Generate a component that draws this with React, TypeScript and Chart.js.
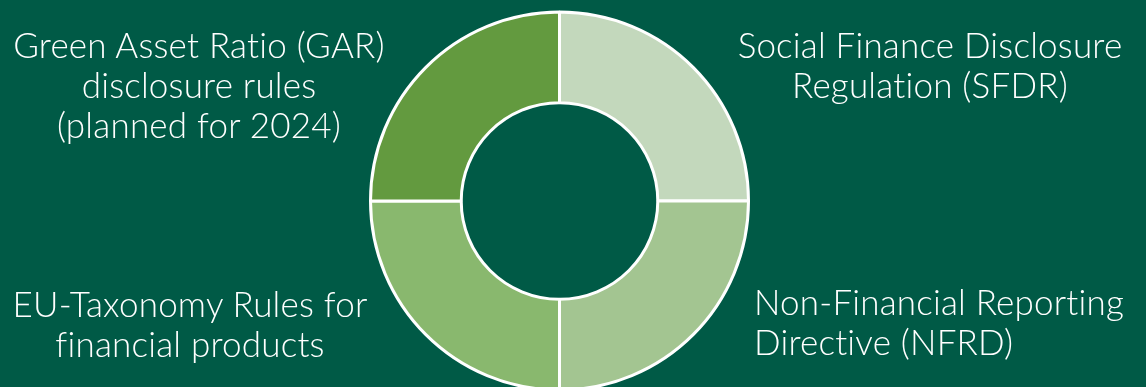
import React, { useEffect, useRef } from "react";
import { Chart, registerables } from "chart.js";

Chart.register(...registerables);

const categories = [
  "Social Finance Disclosure Regulation (SFDR)",
  "Non-Financial Reporting Directive (NFRD)",
  "EU-Taxonomy Rules for financial products",
  "Green Asset Ratio (GAR) disclosure rules (planned for 2024)",
];
const shares = [25, 25, 25, 25];
const sliceColors = ["#c3d8bc", "#a3c591", "#89b86e", "#639a3f"];

const labelTopLeft = ["Green Asset Ratio (GAR)", "disclosure rules", "(planned for 2024)"];
const labelTopRight = ["Social Finance Disclosure", "Regulation (SFDR)"];
const labelBottomLeft = ["EU-Taxonomy Rules for", "financial products"];
const labelBottomRight = ["Non-Financial Reporting", "Directive (NFRD)"];

const BG = "#005a46";
const W = 1146;
const H = 387;

const textStyle: React.CSSProperties = {
  position: "absolute",
  color: "#ffffff",
  fontFamily: "Lato, 'Open Sans', sans-serif",
  fontWeight: 300,
  fontSize: 35,
  lineHeight: "40px",
  letterSpacing: "0.2px",
  fontVariantLigatures: "none",
  whiteSpace: "nowrap",
};

function Lines({ lines }: { lines: string[] }) {
  return (
    <>
      {lines.map((l, i) => (
        <div key={i}>{l}</div>
      ))}
    </>
  );
}

export default function App() {
  const ref = useRef<HTMLCanvasElement | null>(null);

  useEffect(() => {
    if (!ref.current) return;
    const chart = new Chart(ref.current, {
      type: "doughnut",
      data: {
        labels: categories,
        datasets: [
          {
            data: shares,
            backgroundColor: sliceColors,
            borderColor: "#ffffff",
            borderWidth: 3,
          },
        ],
      },
      options: {
        responsive: false,
        animation: false,
        radius: 189,
        cutout: "52%",
        layout: { padding: { top: 15, right: 27, left: 0, bottom: 0 } },
        plugins: {
          legend: { display: false },
          tooltip: { enabled: false },
          title: { display: false },
        },
      },
    });
    return () => chart.destroy();
  }, []);

  return (
    <div
      style={{
        position: "fixed",
        left: 0,
        top: 0,
        width: W,
        height: H,
        background: BG,
        overflow: "hidden",
      }}
    >
      <canvas ref={ref} width={W} height={H} style={{ position: "absolute", left: 0, top: 0 }} />
      <div style={{ ...textStyle, left: 0, top: 24, width: 398, textAlign: "center" }}>
        <Lines lines={labelTopLeft} />
      </div>
      <div style={{ ...textStyle, left: 730, top: 24, width: 400, textAlign: "center" }}>
        <Lines lines={labelTopRight} />
      </div>
      <div style={{ ...textStyle, left: 0, top: 283, width: 380, textAlign: "center" }}>
        <Lines lines={labelBottomLeft} />
      </div>
      <div style={{ ...textStyle, left: 754, top: 281, textAlign: "left" }}>
        <Lines lines={labelBottomRight} />
      </div>
    </div>
  );
}
